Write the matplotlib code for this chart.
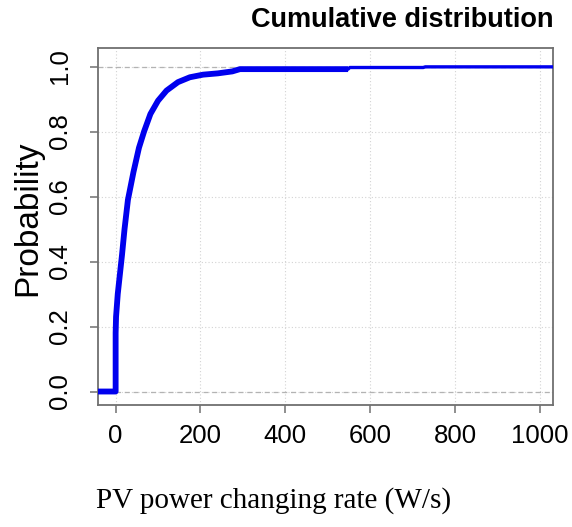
"""
Empirical cumulative distribution of the PV power changing rate.
"""

import matplotlib
matplotlib.use("Agg")
import matplotlib.pyplot as plt

# values
rate = [-42, 0, 0, 1, 5, 10, 15, 21, 29, 42, 55, 67, 82, 100, 120,
        147, 175, 206, 241, 275, 293, 548, 552, 725, 730, 1031]
prob = [0.0, 0.0, 0.18, 0.23, 0.30, 0.36, 0.42, 0.50, 0.59, 0.675, 0.75,
        0.80, 0.854, 0.895, 0.926, 0.952, 0.967, 0.975, 0.979, 0.985,
        0.992, 0.992, 0.997, 0.997, 0.999, 0.999]

x_ticks = [0, 200, 400, 600, 800, 1000]
y_ticks = [0.0, 0.2, 0.4, 0.6, 0.8, 1.0]

frame_col = "#707070"

fig = plt.figure(figsize=(5.72, 5.27), dpi=100)
ax = fig.add_axes([0.1713, 0.2315, 0.7955, 0.6774])

# grid and reference lines
for xt in x_ticks:
    ax.axvline(xt, color="#d3d3d3", lw=0.8, ls=(0, (1, 2)), zorder=0)
for yt in y_ticks:
    ax.axhline(yt, color="#d3d3d3", lw=0.8, ls=(0, (1, 2)), zorder=0)
for yt in (0.0, 1.0):
    ax.axhline(yt, color="#b3b3b3", lw=0.9, ls=(0, (4, 3)), zorder=1)

# dense part of the curve is drawn thicker, like the overplotted points
n_dense = rate.index(548) + 1
ax.plot(rate, prob, color="#0000ee", lw=2.4, solid_capstyle="butt", zorder=3)
ax.plot(rate[:n_dense], prob[:n_dense], color="#0000ee", lw=4.2,
        solid_joinstyle="round", solid_capstyle="butt", zorder=3)

ax.set_xlim(-41.6, 1031)
ax.set_ylim(-0.0415, 1.057)
ax.set_xticks(x_ticks)
ax.set_yticks(y_ticks)
ax.set_xticklabels([str(v) for v in x_ticks])
ax.set_yticklabels([f"{v:.1f}" for v in y_ticks], rotation=90, va="center")

for side in ax.spines.values():
    side.set_color(frame_col)
    side.set_linewidth(1.3)
ax.tick_params(axis="both", direction="out", length=6, width=1.1,
               color=frame_col, labelsize=18.5, labelcolor="black",
               labelfontfamily="Liberation Sans")
ax.tick_params(axis="x", pad=8)
ax.tick_params(axis="y", pad=13)

fig.text(0.967, 0.962, "Cumulative distribution", ha="right", va="center",
         fontsize=19.5, fontweight="bold", family="Liberation Sans")
fig.text(0.049, 0.586, "Probability", rotation=90, ha="center", va="center",
         fontsize=24, family="Liberation Sans")
fig.text(0.479, 0.051, "PV power changing rate (W/s)", ha="center",
         va="center", fontsize=21, family="Liberation Serif")

fig.savefig("out.png", dpi=100)
